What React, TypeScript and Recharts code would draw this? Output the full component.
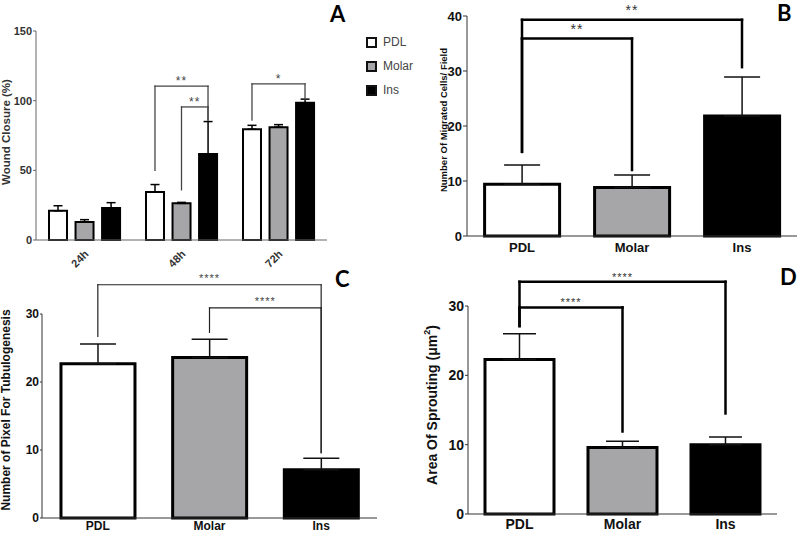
import React from 'react';
import { BarChart, Bar, XAxis, YAxis, ErrorBar, ReferenceLine, Legend, Cell } from 'recharts';

const FONT = '"Liberation Sans", Arial, sans-serif';

const groups = ['PDL', 'Molar', 'Ins'];
const groupFills = ['#ffffff', '#a6a6a9', '#000000'];

// A: wound closure (%)
const timePoints = ['24h', '48h', '72h'];
const woundPdl = [21, 34.5, 79.5];
const woundPdlSem = [3.6, 5.3, 2.8];
const woundMolar = [13, 26.3, 81];
const woundMolarSem = [1.6, 0.7, 1.8];
const woundIns = [23, 61.7, 98.5];
const woundInsSem = [3.8, 23.3, 2.6];
const woundTicks = [0, 50, 100, 150];

// B: migrated cells / field
const migrated = [9.4, 8.8, 21.8];
const migratedSem = [3.5, 2.3, 7.1];
const migratedTicks = [0, 10, 20, 30, 40];

// C: tubulogenesis pixels
const tubulogenesis = [22.7, 23.6, 7.1];
const tubulogenesisSem = [2.9, 2.7, 1.7];
const tubulogenesisTicks = [0, 10, 20, 30];

// D: sprouting area
const sprouting = [22.3, 9.6, 10.0];
const sproutingSem = [3.7, 0.9, 1.1];
const sproutingTicks = [0, 10, 20, 30];

interface Bracket {
  group?: number;
  from: number;
  to: number;
  top: number;
  fromEnd: number;
  toEnd: number;
  label: string;
}

const woundBrackets: Bracket[] = [
  { group: 1, from: 0, to: 2, top: 110.5, fromEnd: 50, toEnd: 86, label: '**' },
  { group: 1, from: 1, to: 2, top: 95.5, fromEnd: 36, toEnd: 86, label: '**' },
  { group: 2, from: 0, to: 2, top: 112, fromEnd: 86, toEnd: 101, label: '*' },
];
const migratedBrackets: Bracket[] = [
  { from: 0, to: 2, top: 39.3, fromEnd: 15.3, toEnd: 30.7, label: '**' },
  { from: 0, to: 1, top: 35.9, fromEnd: 15.3, toEnd: 12, label: '**' },
];
const tubulogenesisBrackets: Bracket[] = [
  { from: 0, to: 2, top: 34.3, fromEnd: 26.7, toEnd: 9.6, label: '****' },
  { from: 1, to: 2, top: 30.9, fromEnd: 27.3, toEnd: 9.6, label: '****' },
];
const sproutingBrackets: Bracket[] = [
  { from: 0, to: 2, top: 33.5, fromEnd: 27.1, toEnd: 14.5, label: '****' },
  { from: 0, to: 1, top: 29.8, fromEnd: 27.1, toEnd: 11.9, label: '****' },
];

// grouped bar geometry for panel A (fractions of a category band)
const A_CAT_GAP = 0.134;
const A_BAR_GAP = 0.088;
const aBarWidth = (1 - 2 * A_CAT_GAP - 2 * A_BAR_GAP) / 3;
const woundSlot = (s: number) => A_CAT_GAP + aBarWidth / 2 + s * (aBarWidth + A_BAR_GAP);

const woundData = timePoints.map((t, i) => ({
  time: t,
  pos: i + 0.5,
  PDL: woundPdl[i],
  PDLErr: [0, woundPdlSem[i]],
  Molar: woundMolar[i],
  MolarErr: [0, woundMolarSem[i]],
  Ins: woundIns[i],
  InsErr: [0, woundInsSem[i]],
}));

interface LineStyle {
  stroke: string;
  width: number;
  starSize: number;
  starColor: string;
  starOffset: number;
}

function bracketLines(list: Bracket[], xOf: (b: Bracket, s: number) => number, st: LineStyle, prefix: string) {
  return list.flatMap((b, i) => {
    const x1 = xOf(b, b.from);
    const x2 = xOf(b, b.to);
    const common = {
      xAxisId: 'pos',
      stroke: st.stroke,
      strokeWidth: st.width,
      strokeLinecap: 'square' as const,
      ifOverflow: 'visible' as const,
    };
    return [
      <ReferenceLine
        key={`${prefix}-t-${i}`}
        {...common}
        segment={[{ x: x1, y: b.top }, { x: x2, y: b.top }]}
        label={{
          value: b.label,
          position: 'top',
          offset: st.starOffset,
          fill: st.starColor,
          fontSize: st.starSize,
          fontFamily: FONT,
          letterSpacing: 1,
        }}
      />,
      <ReferenceLine key={`${prefix}-l-${i}`} {...common} segment={[{ x: x1, y: b.fromEnd }, { x: x1, y: b.top }]} />,
      <ReferenceLine key={`${prefix}-r-${i}`} {...common} segment={[{ x: x2, y: b.toEnd }, { x: x2, y: b.top }]} />,
    ];
  });
}

const axisTitle = (content: React.ReactNode, cx: number, cy: number, size: number, fill: string) => () => (
  <text
    x={cx}
    y={cy}
    transform={`rotate(-90, ${cx}, ${cy})`}
    textAnchor="middle"
    dominantBaseline="central"
    fontSize={size}
    fontWeight="bold"
    fill={fill}
    fontFamily={FONT}
  >
    {content}
  </text>
);

const RotatedTick = (props: any) => {
  const { x, y, payload } = props;
  return (
    <g transform={`translate(${x + 2},${y + 10})`}>
      <text textAnchor="end" transform="rotate(-45)" dy="0.35em" fontSize={11} fontWeight="bold" fill="#333" fontFamily={FONT}>
        {payload.value}
      </text>
    </g>
  );
};

const renderWoundLegend = () => (
  <div>
    {groups.map((g, i) => (
      <div key={g} style={{ display: 'flex', alignItems: 'center', height: 24 }}>
        <span
          style={{
            display: 'inline-block',
            width: 11,
            height: 11,
            boxSizing: 'border-box',
            border: '2px solid #111',
            background: groupFills[i],
          }}
        />
        <span style={{ marginLeft: 6, fontSize: 12, color: '#444', fontFamily: FONT }}>{g}</span>
      </div>
    ))}
  </div>
);

function WoundPanel() {
  return (
    <div style={{ position: 'absolute', left: 0, top: 0 }}>
      <BarChart
        width={400}
        height={270}
        data={woundData}
        margin={{ top: 31, right: 73, bottom: 0, left: 8 }}
        barCategoryGap="13.4%"
        barGap="8.8%"
      >
        <XAxis
          dataKey="time"
          height={30}
          tickLine={false}
          tickSize={0}
          axisLine={{ stroke: '#666' }}
          tick={RotatedTick}
          interval={0}
        />
        <XAxis xAxisId="pos" dataKey="pos" type="number" domain={[0, 3]} hide allowDataOverflow />
        <YAxis
          domain={[0, 150]}
          ticks={woundTicks}
          width={28}
          tickSize={3}
          tickMargin={1}
          axisLine={{ stroke: '#666' }}
          tickLine={{ stroke: '#666' }}
          tick={{ fontSize: 11, fontWeight: 'bold', fill: '#333', fontFamily: FONT }}
          label={axisTitle('Wound Closure (%)', 6, 132, 11.5, '#333')}
        />
        <Legend
          layout="vertical"
          align="center"
          verticalAlign="middle"
          wrapperStyle={{ left: 366, top: 30, width: 60 }}
          content={renderWoundLegend}
        />
        {groups.map((s, i) => (
          <Bar key={s} dataKey={s} name={s} fill={groupFills[i]} stroke="#000" strokeWidth={2} isAnimationActive={false}>
            <ErrorBar dataKey={`${s}Err`} width={4.5} stroke="#000" strokeWidth={1.5} />
          </Bar>
        ))}
        {bracketLines(
          woundBrackets,
          (b, s) => (b.group ?? 0) + woundSlot(s),
          { stroke: '#444', width: 1.3, starSize: 12, starColor: '#444', starOffset: 1 },
          'a'
        )}
      </BarChart>
    </div>
  );
}

interface SingleProps {
  left: number;
  top: number;
  height: number;
  values: number[];
  sem: number[];
  ticks: number[];
  brackets: Bracket[];
  margin: { top: number; right: number; bottom: number; left: number };
  yAxisWidth: number;
  xAxisHeight: number;
  categoryGap: string;
  xFont: number;
  xTickMargin: number;
  yFont: number;
  yTickSize: number;
  capHalf: number;
  line: LineStyle;
  title: React.ReactNode;
  titleX: number;
  titleY: number;
  titleSize: number;
}

function SinglePanel(p: SingleProps) {
  const data = groups.map((g, i) => ({ group: g, pos: i + 0.5, value: p.values[i], err: [0, p.sem[i]] }));
  const max = p.ticks[p.ticks.length - 1];
  return (
    <div style={{ position: 'absolute', left: p.left, top: p.top }}>
      <BarChart width={400} height={p.height} data={data} margin={p.margin} barCategoryGap={p.categoryGap}>
        <XAxis
          dataKey="group"
          height={p.xAxisHeight}
          tickLine={false}
          tickSize={0}
          tickMargin={p.xTickMargin}
          axisLine={{ stroke: '#333' }}
          tick={{ fontSize: p.xFont, fontWeight: 'bold', fill: '#111', fontFamily: FONT }}
          interval={0}
        />
        <XAxis xAxisId="pos" dataKey="pos" type="number" domain={[0, 3]} hide allowDataOverflow />
        <YAxis
          domain={[0, max]}
          ticks={p.ticks}
          width={p.yAxisWidth}
          tickSize={p.yTickSize}
          tickMargin={1}
          axisLine={{ stroke: '#333' }}
          tickLine={{ stroke: '#333' }}
          tick={{ fontSize: p.yFont, fontWeight: 'bold', fill: '#111', fontFamily: FONT }}
          label={axisTitle(p.title, p.titleX, p.titleY, p.titleSize, '#111')}
        />
        <Bar dataKey="value" stroke="#000" strokeWidth={3} isAnimationActive={false}>
          {data.map((d, i) => (
            <Cell key={d.group} fill={groupFills[i]} />
          ))}
          <ErrorBar dataKey="err" width={p.capHalf} stroke="#111" strokeWidth={1.5} />
        </Bar>
        {bracketLines(p.brackets, (_b, s) => s + 0.5, p.line, 'b')}
      </BarChart>
    </div>
  );
}

export default function App() {
  return (
    <div
      style={{
        position: 'absolute',
        left: 0,
        top: 0,
        width: 800,
        height: 533,
        background: '#fff',
        overflow: 'hidden',
        fontFamily: FONT,
      }}
    >
      <WoundPanel />
      <SinglePanel
        left={400}
        top={0}
        height={270}
        values={migrated}
        sem={migratedSem}
        ticks={migratedTicks}
        brackets={migratedBrackets}
        margin={{ top: 16, right: 3, bottom: 0, left: 17 }}
        yAxisWidth={50}
        xAxisHeight={34}
        categoryGap="16%"
        xFont={13}
        xTickMargin={7}
        yFont={13}
        yTickSize={4}
        capHalf={18}
        line={{ stroke: '#000', width: 2.5, starSize: 14, starColor: '#333', starOffset: 5 }}
        title="Number Of Migrated Cells/ Field"
        titleX={43}
        titleY={120}
        titleSize={9.5}
      />
      <SinglePanel
        left={0}
        top={270}
        height={263}
        values={tubulogenesis}
        sem={tubulogenesisSem}
        ticks={tubulogenesisTicks}
        brackets={tubulogenesisBrackets}
        margin={{ top: 44, right: 23, bottom: 0, left: 0 }}
        yAxisWidth={42}
        xAxisHeight={15}
        categoryGap="17%"
        xFont={12}
        xTickMargin={3}
        yFont={12}
        yTickSize={2}
        capHalf={18}
        line={{ stroke: '#222', width: 1.2, starSize: 11, starColor: '#444', starOffset: 3 }}
        title="Number of Pixel For Tubulogenesis"
        titleX={6}
        titleY={140}
        titleSize={12}
      />
      <SinglePanel
        left={400}
        top={270}
        height={263}
        values={sprouting}
        sem={sproutingSem}
        ticks={sproutingTicks}
        brackets={sproutingBrackets}
        margin={{ top: 36, right: 23, bottom: 0, left: 20 }}
        yAxisWidth={48}
        xAxisHeight={19}
        categoryGap="16.5%"
        xFont={14}
        xTickMargin={5}
        yFont={14}
        yTickSize={3}
        capHalf={16.5}
        line={{ stroke: '#000', width: 2.5, starSize: 11, starColor: '#333', starOffset: 1 }}
        title={
          <>
            Area Of Sprouting (μm
            <tspan dy={-5} fontSize={9}>
              2
            </tspan>
            <tspan dy={5}>)</tspan>
          </>
        }
        titleX={32}
        titleY={135}
        titleSize={14}
      />
      <svg width={800} height={533} style={{ position: 'absolute', left: 0, top: 0, pointerEvents: 'none' }}>
        <g fontFamily="Lato, sans-serif" fontWeight="bold" fontSize={22} fill="#000">
          <text x={330} y={22}>A</text>
          <text x={777} y={21}>B</text>
          <text x={335} y={287}>C</text>
          <text x={780} y={285}>D</text>
        </g>
      </svg>
    </div>
  );
}
